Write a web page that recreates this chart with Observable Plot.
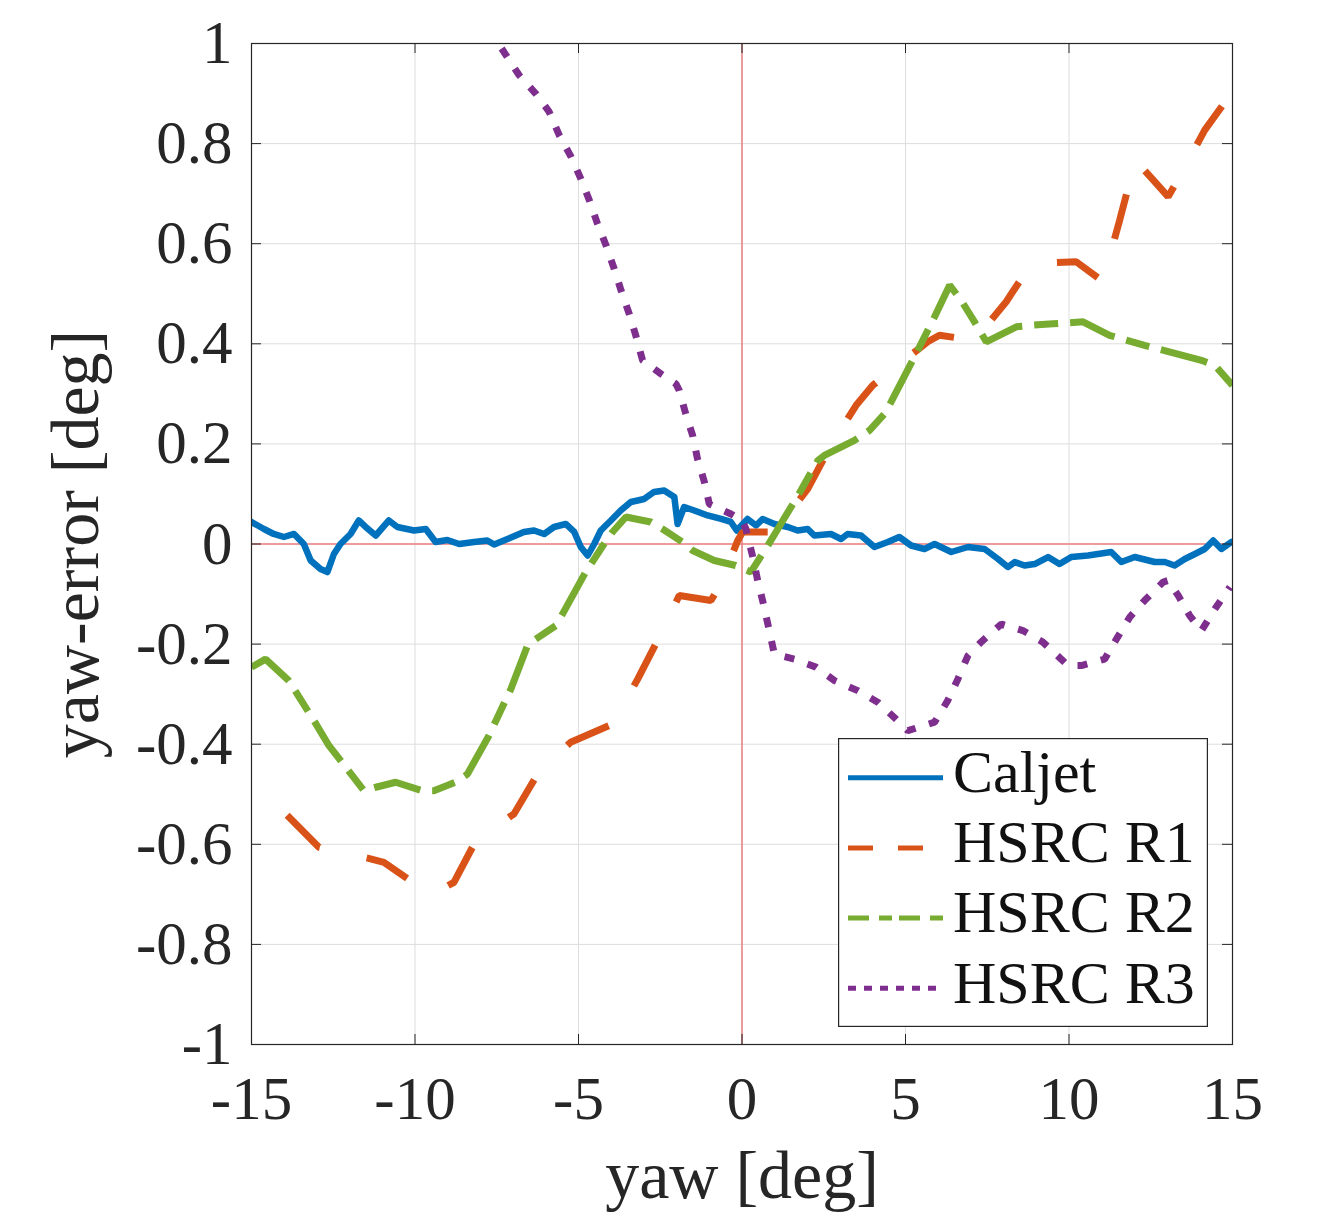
<!DOCTYPE html>
<html><head><meta charset="utf-8">
<script src="https://cdn.jsdelivr.net/npm/d3@7"></script>
<script src="https://cdn.jsdelivr.net/npm/@observablehq/plot@0.6"></script>
<style>
html,body{margin:0;padding:0;background:#fff;}
#wrap{position:relative;width:1318px;height:1222px;overflow:hidden;}
#legend{position:absolute;}
</style></head><body><div id="wrap"></div>
<script>
// ---------- data ----------
const xTicks = [-15, -10, -5, 0, 5, 10, 15];
const xTickLabels = ["-15", "-10", "-5", "0", "5", "10", "15"];
const yTicks = [1, 0.8, 0.6, 0.4, 0.2, 0, -0.2, -0.4, -0.6, -0.8, -1];
const yTickLabels = ["1", "0.8", "0.6", "0.4", "0.2", "0", "-0.2", "-0.4", "-0.6", "-0.8", "-1"];
const xLabel = "yaw [deg]";
const yLabel = "yaw-error [deg]";
const seriesNames = ["Caljet", "HSRC R1", "HSRC R2", "HSRC R3"];
const seriesColors = ["#0072BD", "#D95319", "#77AC30", "#7E2F8E"];

const caljetYaw = [-15.0, -14.62, -14.32, -14.01, -13.7, -13.4, -13.19, -12.89, -12.68, -12.48, -12.28, -11.97, -11.72, -11.51, -11.2, -10.8, -10.54, -10.03, -9.67, -9.37, -9.01, -8.65, -8.19, -7.79, -7.58, -7.17, -6.67, -6.36, -6.05, -5.75, -5.39, -5.13, -4.93, -4.72, -4.52, -4.32, -4.01, -3.71, -3.40, -2.99, -2.69, -2.38, -2.07, -1.97, -1.77, -1.46, -1.05, -0.64, -0.34, -0.16, 0.17, 0.43, 0.63, 0.99, 1.40, 1.70, 2.01, 2.21, 2.72, 3.03, 3.23, 3.64, 4.05, 4.46, 4.81, 5.17, 5.58, 5.89, 6.40, 6.91, 7.42, 7.83, 8.13, 8.34, 8.64, 8.95, 9.36, 9.71, 10.07, 10.58, 11.29, 11.60, 12.01, 12.62, 12.93, 13.23, 13.54, 13.85, 14.15, 14.41, 14.66, 14.97];
const caljetErr = [0.044, 0.030, 0.020, 0.014, 0.020, 0.0, -0.033, -0.050, -0.056, -0.020, 0.0, 0.020, 0.047, 0.034, 0.017, 0.047, 0.034, 0.027, 0.030, 0.004, 0.008, 0.0, 0.004, 0.007, -0.001, 0.010, 0.024, 0.027, 0.020, 0.034, 0.040, 0.024, -0.006, -0.023, 0.0, 0.027, 0.047, 0.067, 0.084, 0.090, 0.104, 0.107, 0.094, 0.040, 0.074, 0.067, 0.057, 0.050, 0.044, 0.027, 0.050, 0.037, 0.050, 0.040, 0.034, 0.027, 0.030, 0.017, 0.020, 0.010, 0.020, 0.017, -0.006, 0.004, 0.014, -0.003, -0.010, 0.0, -0.016, -0.006, -0.010, -0.030, -0.046, -0.036, -0.043, -0.040, -0.026, -0.040, -0.026, -0.023, -0.016, -0.036, -0.026, -0.036, -0.036, -0.043, -0.030, -0.020, -0.010, 0.007, -0.010, 0.004];

const r1Yaw = [-13.91, -12.94, -11.42, -10.95, -10.13, -9.47, -8.81, -8.14, -6.97, -6.22, -5.24, -3.96, -3.19, -2.53, -1.92, -0.95, -0.70, -0.13, 0.02, 0.99, 2.01, 2.72, 3.49, 4.0, 4.51, 5.68, 6.04, 7.11, 8.08, 8.84, 10.22, 10.99, 11.14, 11.55, 11.91, 12.05, 12.62, 13.03, 13.44, 14.15, 15.0];
const r1Err = [-0.542, -0.606, -0.628, -0.636, -0.673, -0.70, -0.676, -0.593, -0.539, -0.456, -0.396, -0.360, -0.270, -0.186, -0.103, -0.113, -0.086, 0.007, 0.024, 0.024, 0.110, 0.197, 0.277, 0.317, 0.344, 0.404, 0.417, 0.407, 0.484, 0.560, 0.564, 0.527, 0.550, 0.647, 0.737, 0.765, 0.724, 0.694, 0.740, 0.827, 0.904];

const r2Yaw = [-15.0, -14.57, -13.86, -13.09, -12.63, -12.07, -11.56, -11.20, -10.59, -9.78, -9.42, -8.76, -8.40, -7.74, -7.07, -6.56, -6.31, -5.69, -5.49, -4.78, -4.22, -3.96, -3.55, -2.79, -2.43, -1.82, -1.51, -0.85, -0.19, 0.27, 0.79, 1.04, 1.50, 1.80, 2.32, 2.52, 3.44, 3.90, 4.36, 4.56, 5.22, 5.89, 6.35, 6.70, 7.11, 7.47, 8.39, 8.84, 9.51, 10.43, 11.24, 12.31, 14.05, 14.46, 15.0];
const r2Err = [-0.246, -0.230, -0.273, -0.353, -0.403, -0.450, -0.493, -0.486, -0.476, -0.493, -0.493, -0.476, -0.460, -0.383, -0.290, -0.203, -0.190, -0.163, -0.140, -0.056, 0.0, 0.024, 0.054, 0.044, 0.030, 0.004, -0.013, -0.033, -0.043, -0.056, -0.003, 0.024, 0.074, 0.107, 0.167, 0.177, 0.207, 0.227, 0.260, 0.284, 0.367, 0.454, 0.517, 0.487, 0.444, 0.404, 0.434, 0.437, 0.440, 0.444, 0.417, 0.397, 0.367, 0.357, 0.317];

const r3Yaw = [-7.35, -6.82, -6.31, -5.90, -5.59, -5.23, -4.93, -4.67, -4.42, -4.16, -3.91, -3.70, -3.45, -3.25, -3.04, -2.48, -2.02, -1.92, -1.72, -1.51, -1.36, -1.15, -1.00, -0.34, 0.0, 0.12, 0.33, 0.48, 0.63, 0.79, 0.99, 1.60, 2.26, 2.83, 3.54, 4.15, 4.71, 5.07, 5.89, 6.29, 6.60, 6.91, 7.31, 7.93, 8.59, 9.20, 9.76, 9.97, 10.38, 11.09, 11.45, 11.86, 12.31, 12.88, 13.03, 13.34, 13.69, 14.05, 14.46, 14.92];
const r3Err = [0.99, 0.937, 0.900, 0.864, 0.817, 0.774, 0.730, 0.687, 0.640, 0.597, 0.550, 0.507, 0.460, 0.417, 0.367, 0.340, 0.320, 0.307, 0.260, 0.217, 0.170, 0.124, 0.080, 0.060, 0.047, 0.030, -0.026, -0.073, -0.113, -0.160, -0.220, -0.230, -0.246, -0.273, -0.293, -0.316, -0.350, -0.373, -0.356, -0.313, -0.270, -0.223, -0.196, -0.160, -0.173, -0.196, -0.230, -0.243, -0.243, -0.230, -0.190, -0.146, -0.113, -0.076, -0.073, -0.103, -0.143, -0.173, -0.130, -0.086];

// ---------- layout / style ----------
const W = 1318, H = 1222, mL = 251, mR = 86, mT = 43, mB = 178;
const frameH = H - mT - mB, frameW = W - mL - mR;
const FONT = "'Liberation Serif', 'Times New Roman', serif";
const INK = "#262626";
const lineDash = [null, "46,48", "48,12,24,12", "10,14"];
const lineWidth = [6.5, 7, 7, 7];
const legendDash = [null, "25,25", "21,10,13,7", "8,8"];

const rows = (xs, ys) => xs.map((x, i) => ({x, y: ys[i]}));
const series = [rows(caljetYaw, caljetErr), rows(r1Yaw, r1Err), rows(r2Yaw, r2Err), rows(r3Yaw, r3Err)];

const lineMarks = series.map((data, k) => Plot.line(data, {
  x: "x", y: "y",
  stroke: seriesColors[k],
  strokeWidth: lineWidth[k],
  strokeDasharray: lineDash[k] || undefined,
  strokeLinecap: k === 0 ? "round" : "butt",
  strokeLinejoin: k === 0 ? "round" : "miter",
  curve: "linear"
}));

const chart = Plot.plot({
  width: W, height: H,
  marginLeft: mL, marginRight: mR, marginTop: mT, marginBottom: mB,
  x: {domain: [-15, 15], axis: null},
  y: {domain: [-1, 1], axis: null},
  clip: true,
  style: {fontFamily: FONT, background: "white", overflow: "visible"},
  marks: [
    Plot.ruleX(xTicks, {stroke: "#dddddd", strokeWidth: 1, clip: false}),
    Plot.ruleY(yTicks, {stroke: "#dddddd", strokeWidth: 1, clip: false}),
    Plot.ruleX([0], {stroke: "#e34a4a", strokeWidth: 1, clip: false}),
    Plot.ruleY([0], {stroke: "#f07f7f", strokeWidth: 1.3, clip: false}),
    ...lineMarks,
    Plot.frame({stroke: INK, strokeWidth: 1.2}),
    Plot.tickX(xTicks, {x: d => d, insetTop: frameH - 10, stroke: INK, clip: false}),
    Plot.tickX(xTicks, {x: d => d, insetBottom: frameH - 10, stroke: INK, clip: false}),
    Plot.tickY(yTicks, {y: d => d, insetRight: frameW - 10, stroke: INK, clip: false}),
    Plot.tickY(yTicks, {y: d => d, insetLeft: frameW - 10, stroke: INK, clip: false}),
    Plot.text(xTicks, {x: d => d, text: (d, i) => xTickLabels[i], frameAnchor: "bottom", textAnchor: "middle", lineAnchor: "bottom", dy: 74, fontSize: 61, fill: INK, clip: false}),
    Plot.text(yTicks, {y: d => d, text: (d, i) => yTickLabels[i], frameAnchor: "left", textAnchor: "end", lineAnchor: "middle", dx: -19, fontSize: 61, fill: INK, clip: false}),
    Plot.text([xLabel], {frameAnchor: "bottom", textAnchor: "middle", lineAnchor: "bottom", dy: 153, fontSize: 68, fill: INK, clip: false}),
    Plot.text([yLabel], {frameAnchor: "left", textAnchor: "middle", rotate: -90, lineAnchor: "bottom", dx: -154, fontSize: 68, fill: INK, clip: false})
  ]
});
const wrap = document.getElementById("wrap");
wrap.appendChild(chart);

// ---------- legend ----------
const LW = 370, LH = 289, rowStep = 70.2, rowLine0 = 39.7, rowText0 = 54;
const legend = d3.create("svg")
  .attr("id", "legend")
  .attr("width", LW).attr("height", LH)
  .style("left", "838px").style("top", "738px");
legend.append("rect").attr("x", 0.6).attr("y", 0.6).attr("width", LW - 1.2).attr("height", LH - 1.2)
  .attr("fill", "white").attr("stroke", INK).attr("stroke-width", 1.2);
seriesNames.forEach((name, k) => {
  legend.append("line")
    .attr("x1", 10).attr("x2", 105)
    .attr("y1", rowLine0 + k * rowStep).attr("y2", rowLine0 + k * rowStep)
    .attr("stroke", seriesColors[k]).attr("stroke-width", 5)
    .attr("stroke-dasharray", legendDash[k])
    .attr("stroke-linecap", "butt");
  legend.append("text")
    .attr("x", 115).attr("y", rowText0 + k * rowStep)
    .attr("font-family", FONT).attr("font-size", 60).attr("fill", "#111")
    .text(name);
});
wrap.appendChild(legend.node());
</script>
</body></html>
